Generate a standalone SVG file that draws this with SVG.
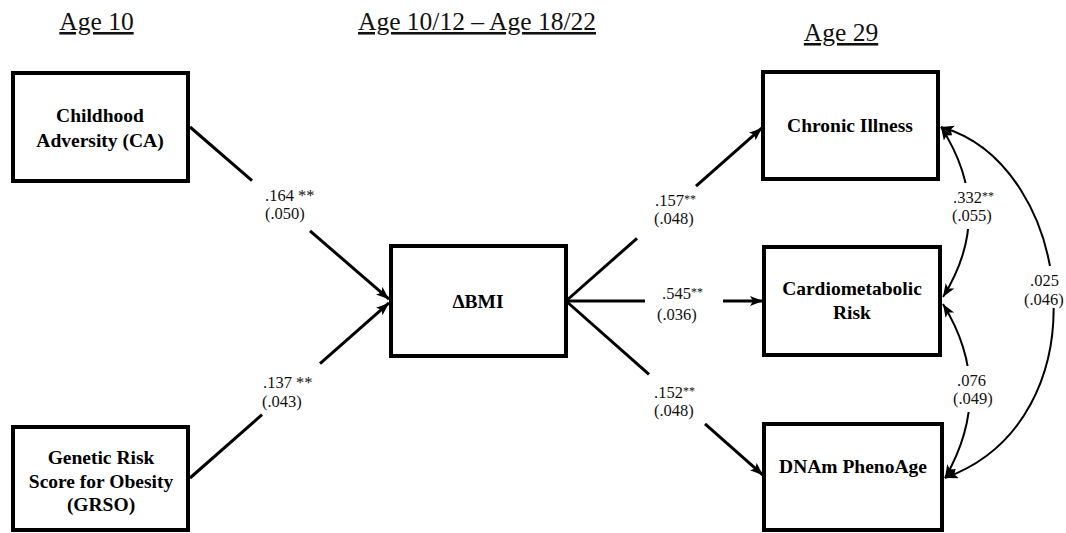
<svg xmlns="http://www.w3.org/2000/svg" width="1066" height="533" viewBox="0 0 1066 533">
<defs>
<style>
text{font-family:"Liberation Serif","Times New Roman",serif;fill:#111;}
.title{font-size:25.5px;text-decoration:underline;text-anchor:middle;}
.node rect{fill:#fff;stroke:#000;stroke-width:4;}
.node text{font-size:19.5px;font-weight:bold;text-anchor:middle;fill:#000;}
.lbl{font-size:16.5px;}
.sm{font-size:12px;}
.path{fill:none;stroke:#000;stroke-width:3;}
.cov{fill:none;stroke:#000;stroke-width:2;}
.bg{fill:#fff;}
</style>
<marker id="ah" markerUnits="userSpaceOnUse" markerWidth="14" markerHeight="11" refX="13" refY="5" orient="auto-start-reverse">
<path d="M0,0 L13,5 L0,10 L3,5 z" fill="#000"/>
</marker>
</defs>
<rect width="1066" height="533" fill="#fff"/>

<g id="titles">
<text class="title" x="96.5" y="30">Age 10</text>
<text class="title" x="477" y="30">Age 10/12 – Age 18/22</text>
<text class="title" x="841" y="41">Age 29</text>
</g>

<g id="connectors">
<line class="path" x1="190" y1="127" x2="252" y2="180.6"/>
<line class="path" x1="310" y1="230.8" x2="389" y2="299.2" marker-end="url(#ah)"/>
<line class="path" x1="190" y1="478" x2="262" y2="414.6"/>
<line class="path" x1="320" y1="363.6" x2="389" y2="302.9" marker-end="url(#ah)"/>
<line class="path" x1="566" y1="301" x2="637" y2="238.3"/>
<line class="path" x1="696" y1="186.2" x2="762" y2="127.9" marker-end="url(#ah)"/>
<line class="path" x1="566" y1="301" x2="645" y2="301"/>
<line class="path" x1="723" y1="301" x2="763" y2="301" marker-end="url(#ah)"/>
<line class="path" x1="566" y1="301" x2="649" y2="374.4"/>
<line class="path" x1="705" y1="423.9" x2="763" y2="475.2" marker-end="url(#ah)"/>
<path class="cov" d="M941,127 Q996,212 943,297" marker-start="url(#ah)" marker-end="url(#ah)"/>
<path class="cov" d="M943,304 Q996,390 945,478" marker-start="url(#ah)" marker-end="url(#ah)"/>
<path class="cov" d="M941,127 C1075,165 1105,420 945,478" marker-start="url(#ah)" marker-end="url(#ah)"/>
</g>

<g id="labels">
<text class="lbl" x="265" y="201">.164 **</text>
<text class="lbl" x="265" y="219">(.050)</text>
<text class="lbl" x="263" y="388">.137 **</text>
<text class="lbl" x="262" y="407">(.043)</text>
<text class="lbl" x="655" y="206">.157<tspan class="sm" dy="-3">**</tspan></text>
<text class="lbl" x="654" y="224">(.048)</text>
<text class="lbl" x="662" y="299">.545<tspan class="sm" dy="-3">**</tspan></text>
<text class="lbl" x="657" y="320">(.036)</text>
<text class="lbl" x="654" y="398">.152<tspan class="sm" dy="-3">**</tspan></text>
<text class="lbl" x="654" y="416">(.048)</text>
<rect class="bg" x="949" y="183" width="47" height="46"/>
<text class="lbl" x="953" y="203">.332<tspan class="sm" dy="-3">**</tspan></text>
<text class="lbl" x="952" y="221">(.055)</text>
<rect class="bg" x="949" y="366" width="45" height="46"/>
<text class="lbl" x="957" y="386">.076</text>
<text class="lbl" x="953" y="404">(.049)</text>
<rect class="bg" x="1021" y="266" width="45" height="42"/>
<text class="lbl" x="1030" y="286">.025</text>
<text class="lbl" x="1024" y="305">(.046)</text>
</g>

<g id="node-ca" class="node">
<rect x="13" y="73" width="175" height="108"/>
<text x="100" y="122">Childhood</text>
<text x="100" y="147">Adversity (CA)</text>
</g>
<g id="node-grso" class="node">
<rect x="13" y="427" width="175" height="103"/>
<text x="101" y="464">Genetic Risk</text>
<text x="101" y="488">Score for Obesity</text>
<text x="101" y="511">(GRSO)</text>
</g>
<g id="node-bmi" class="node">
<rect x="391" y="246" width="175" height="110"/>
<text x="478" y="308">ΔBMI</text>
</g>
<g id="node-chronic" class="node">
<rect x="763" y="72" width="175" height="107"/>
<text x="850" y="132">Chronic Illness</text>
</g>
<g id="node-cardio" class="node">
<rect x="764" y="247" width="176" height="108"/>
<text x="852" y="295">Cardiometabolic</text>
<text x="852" y="319">Risk</text>
</g>
<g id="node-dnam" class="node">
<rect x="764" y="424" width="178" height="106"/>
<text x="853" y="473">DNAm PhenoAge</text>
</g>
</svg>
